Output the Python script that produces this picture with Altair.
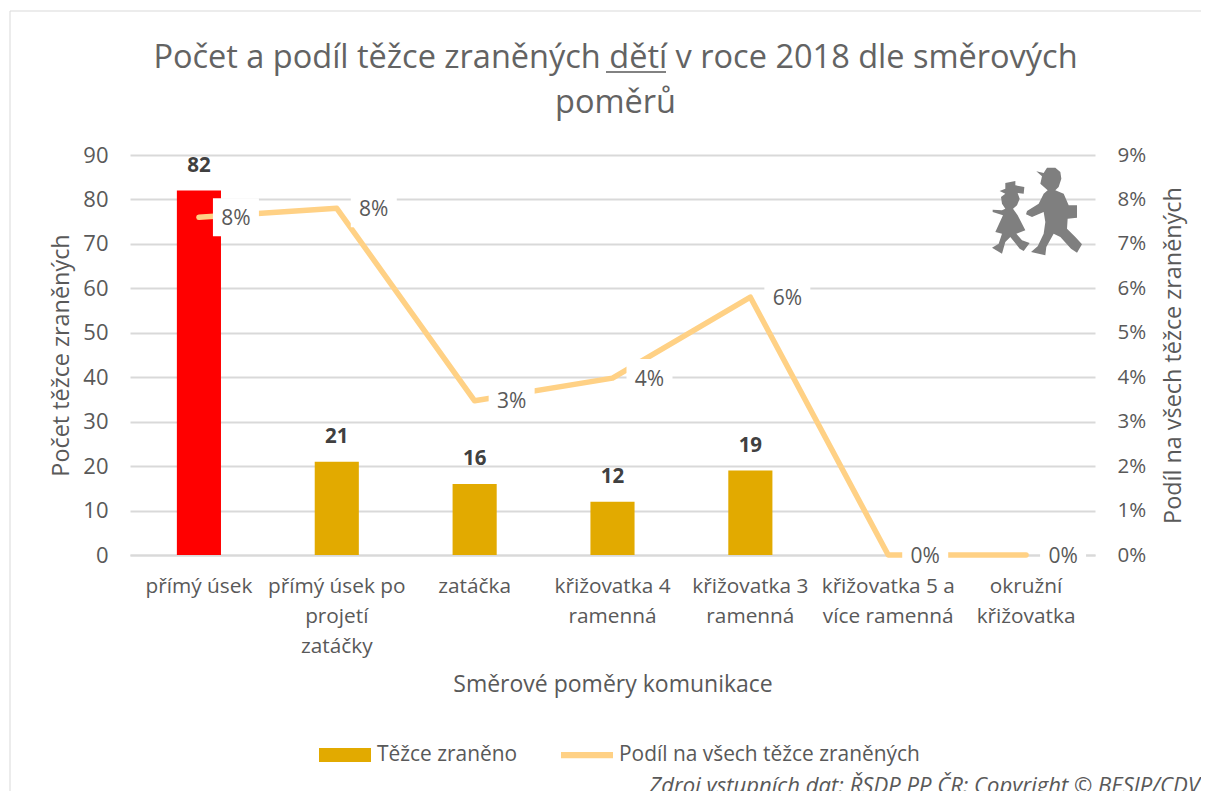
import altair as alt
import pandas as pd

categories = ["přímý úsek", "přímý úsek po|projetí|zatáčky", "zatáčka", "křižovatka 4|ramenná",
              "křižovatka 3|ramenná", "křižovatka 5 a|více ramenná", "okružní|křižovatka"]
counts = [82, 21, 16, 12, 19, 0, 0]
shares = [0.076, 0.078, 0.0347, 0.0398, 0.058, 0.0, 0.0]
bars_shown = [True, True, True, True, True, False, False]
series_names = ["Těžce zraněno", "Podíl na všech těžce zraněných"]
title_lines = ["Počet a podíl těžce zraněných dětí v roce 2018 dle směrových", "poměrů"]
source_note = ["Zdroj vstupních dat: ŘSDP PP ČR; Copyright © BESIP/CDV"]

FONT = "Open Sans"
TXT = "#595959"
GRID = "#D9D9D9"
GOLD = "#E2AA00"
RED = "#FF0000"
LINE = "#FFD185"

df = pd.DataFrame({"cat": categories, "count": counts, "share": shares, "shown": bars_shown})
W, H = 965, 400

x = alt.X("cat:N", sort=categories, scale=alt.Scale(paddingInner=0.68, paddingOuter=0.34),
          axis=alt.Axis(title="Směrové poměry komunikace", labelExpr="split(datum.label,'|')", labelAngle=0,
                        labelFontSize=20.8, labelColor=TXT, labelFont=FONT, labelLimit=200, labelLineHeight=30,
                        labelPadding=21, ticks=False, domainColor=GRID, domainWidth=2, titleFont=FONT,
                        titleFontSize=23, titleColor=TXT, titleFontWeight="normal", titlePadding=18, grid=False))
yL = alt.Y("count:Q", scale=alt.Scale(domain=[0, 90]),
           axis=alt.Axis(title="Počet těžce zraněných", orient="left", values=list(range(0, 91, 10)), grid=True,
                         gridColor=GRID, gridWidth=2, ticks=False, domain=False, labelFontSize=22, labelColor=TXT,
                         labelFont=FONT, labelPadding=22, titleFont=FONT, titleFontSize=23.4, titleColor=TXT,
                         titleFontWeight="normal", titlePadding=9))
yR = alt.Y("share:Q", scale=alt.Scale(domain=[0, 0.09]),
           axis=alt.Axis(title="Podíl na všech těžce zraněných", orient="right", format=".0%",
                         values=[i / 100 for i in range(10)], grid=False, ticks=False, domain=False,
                         labelFontSize=20.5, labelColor=TXT, labelFont=FONT, labelPadding=22, titleFont=FONT,
                         titleFontSize=23.4, titleColor=TXT, titleFontWeight="normal", titlePadding=40,
                         titleAngle=270))
yR0 = alt.Y("share:Q", scale=alt.Scale(domain=[0, 0.09]), axis=None)
yL0 = alt.Y("count:Q", scale=alt.Scale(domain=[0, 90]), axis=None)

base = alt.Chart(df)
shown = base.transform_filter("datum.shown")

bars = shown.mark_bar().encode(
    x=x, y=yL, color=alt.condition(f"datum.cat == '{categories[0]}'", alt.value(RED), alt.value(GOLD)))
bar_labels = shown.mark_text(font=FONT, fontSize=20.5, fontWeight="bold", color="#404040", dy=-25).encode(
    x=x, y=yL0, text="count:Q")
line = base.mark_line(color=LINE, strokeWidth=5.5, strokeCap="round", strokeJoin="round").encode(x=x, y=yR)
boxes = base.mark_point(shape="M-1.21,-1H1.21V1H-1.21Z", filled=True, fill="white", stroke=None, opacity=1,
                        size=38 * 38, xOffset=37).encode(x=x, y=yR0)
share_labels = base.mark_text(font=FONT, fontSize=21, color=TXT, dx=37, dy=1.5).encode(
    x=x, y=yR0, text=alt.Text("share:Q", format=".0%"))

# silhouette of two walking children (shape outline only)
boy = [(228,93),(250,98),(260,82),(285,82),(300,95),(303,115),(295,140),(285,150),(310,160),(325,195),(350,195),
       (350,232),(322,235),(320,265),(345,290),(365,312),(350,337),(332,325),(300,290),(280,280),(258,320),(255,345),
       (212,335),(232,318),(250,280),(255,245),(250,215),(215,230),(197,222),(200,212),(235,190),(250,160),(262,150),
       (245,135),(240,130),(245,108)]
girl = [(118,152),(135,145),(135,128),(165,122),(165,135),(192,140),(190,160),(172,158),(178,175),(170,195),(158,205),
        (172,225),(195,270),(168,280),(185,300),(208,308),(190,332),(178,325),(150,290),(135,305),(125,340),(95,322),
        (115,310),(125,280),(105,275),(128,225),(97,215),(97,208),(125,210),(135,205),(125,190),(122,170),(135,160)]
def sub(pts):
    return "M" + "L".join(f"{(a-230)/135:.3f},{(b-212)/135:.3f}" for a, b in pts) + "Z"
icon = alt.Chart(pd.DataFrame({"a": [0]})).mark_point(shape=sub(boy) + sub(girl), filled=True, fill="#7F7F7F",
                                                      stroke=None, opacity=1, size=8100).encode(
    x=alt.value(907), y=alt.value(56))

legend_opts = dict(title=None, orient="none", legendX=189, legendY=574, direction="horizontal",
                   symbolSize=2704, symbolOpacity=1, labelFont=FONT, labelFontSize=20.9, labelColor=TXT,
                   labelLimit=400, labelOffset=6, columnPadding=43, symbolStrokeWidth=0)
legend_src = alt.Chart(pd.DataFrame({"series": series_names})).transform_filter("false").mark_point(filled=True, opacity=1).encode(
    color=alt.Color("series:N", scale=alt.Scale(domain=series_names, range=[GOLD, LINE]),
                    legend=alt.Legend(**legend_opts)),
    shape=alt.Shape("series:N", scale=alt.Scale(domain=series_names,
                                                range=["M-1,-0.27H1V0.27H-1Z", "M-1,-0.12H1V0.12H-1Z"]),
                    legend=alt.Legend(**legend_opts)))

one = alt.Chart(pd.DataFrame({"a": [0]}))
underline = one.mark_rule(color=TXT, strokeWidth=1.5).encode(x=alt.value(476), x2=alt.value(536), y=alt.value(-83))
frame_l = one.mark_rule(color=GRID, strokeWidth=1).encode(x=alt.value(-120), y=alt.value(-144), y2=alt.value(640))
frame_t = one.mark_rule(color=GRID, strokeWidth=1).encode(x=alt.value(-120), x2=alt.value(1079), y=alt.value(-144))
note = alt.Chart(pd.DataFrame({"t": source_note})).mark_text(font=FONT, fontSize=22.1, fontStyle="italic", color=TXT,
                                                            align="right", baseline="middle").encode(
    x=alt.value(1070), y=alt.value(631), text="t:N")

chart = alt.layer(bars, line, boxes, bar_labels, share_labels, icon, legend_src, underline, frame_l, frame_t, note
).resolve_scale(y="independent").properties(
    width=W, height=H,
    title=alt.TitleParams(text=title_lines, font=FONT, fontSize=32.5, fontWeight="normal", color="#636363", anchor="middle",
                          lineHeight=44.5, offset=-108.5, dx=3),
    autosize=alt.AutoSizeParams(type="none"),
    padding={"left": 122, "top": 147, "right": 106, "bottom": 236},
    background="white",
).configure_view(stroke=None)

chart.save("out.html", embed_options={"renderer": "svg", "actions": False})
